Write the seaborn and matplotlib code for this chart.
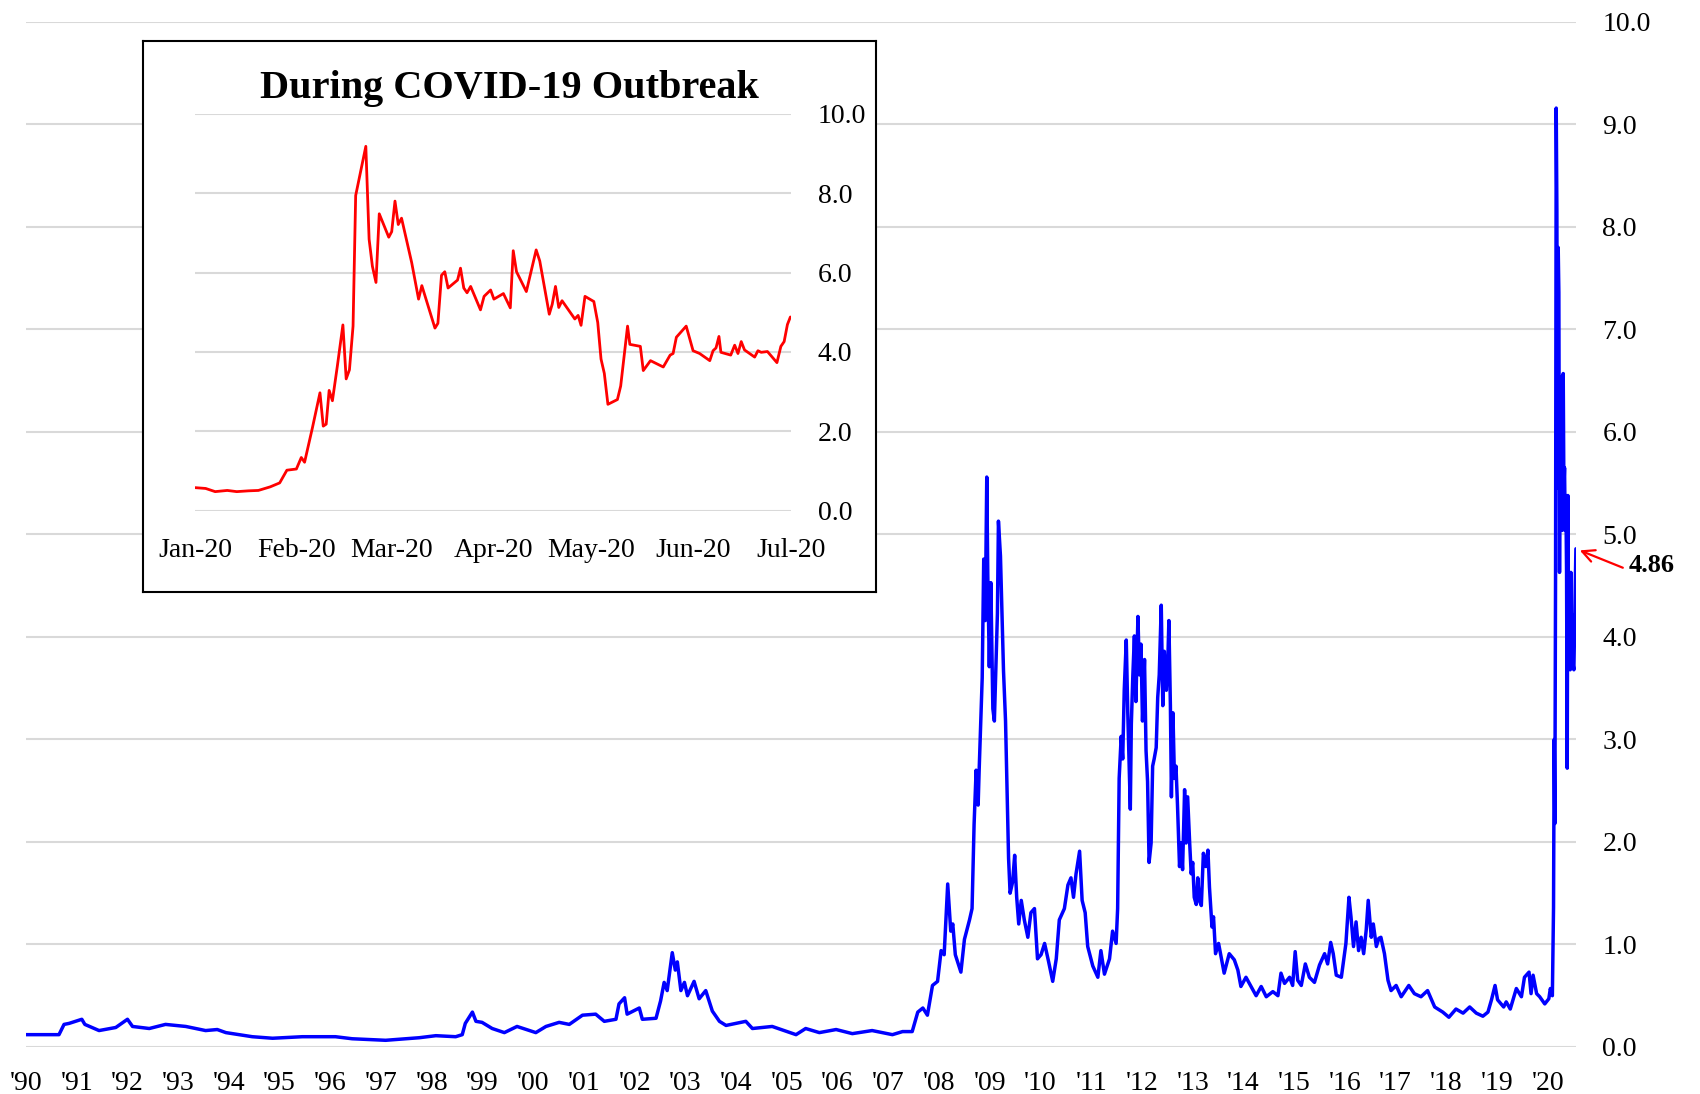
import pandas as pd
import seaborn as sns
import matplotlib.pyplot as plt

# ============================================
# DATA
# ============================================

main_year = [
    1990.00, 1990.65, 1990.75, 1990.85, 1991.10, 1991.16, 1991.44, 1991.77, 1992.00, 1992.10,
    1992.43, 1992.75, 1993.15, 1993.54, 1993.77, 1993.94, 1994.46, 1994.86, 1995.45, 1995.78,
    1996.10, 1996.43, 1997.09, 1997.75, 1998.08, 1998.47, 1998.60, 1998.66, 1998.80, 1998.87,
    1998.99, 1999.19, 1999.43, 1999.68, 2000.05, 2000.25, 2000.51, 2000.71, 2000.97, 2001.23,
    2001.40, 2001.63, 2001.69, 2001.80, 2001.85, 2002.09, 2002.15, 2002.42, 2002.51, 2002.58,
    2002.64, 2002.74, 2002.80, 2002.84, 2002.91, 2002.98, 2003.04, 2003.17, 2003.27, 2003.40,
    2003.53, 2003.67, 2003.80, 2004.19, 2004.32, 2004.71, 2005.18, 2005.37, 2005.64, 2005.97,
    2006.29, 2006.68, 2007.08, 2007.28, 2007.47, 2007.58, 2007.68, 2007.77, 2007.87, 2007.97,
    2008.04, 2008.10, 2008.17, 2008.23, 2008.27, 2008.32, 2008.43, 2008.50, 2008.60, 2008.65,
    2008.69, 2008.73, 2008.77, 2008.79, 2008.85, 2008.88, 2008.91, 2008.94, 2008.96, 2008.99,
    2009.02, 2009.06, 2009.09, 2009.12, 2009.15, 2009.17, 2009.21, 2009.24, 2009.27, 2009.31,
    2009.33, 2009.37, 2009.40, 2009.45, 2009.49, 2009.53, 2009.57, 2009.62, 2009.68, 2009.75,
    2009.81, 2009.88, 2009.94, 2010.01, 2010.08, 2010.16, 2010.24, 2010.31, 2010.37, 2010.47,
    2010.54, 2010.60, 2010.65, 2010.70, 2010.77, 2010.82, 2010.88, 2010.93, 2011.03, 2011.13,
    2011.19, 2011.26, 2011.36, 2011.42, 2011.49, 2011.52, 2011.55, 2011.59, 2011.62, 2011.65,
    2011.69, 2011.72, 2011.74, 2011.77, 2011.79, 2011.82, 2011.85, 2011.88, 2011.92, 2011.95,
    2011.98, 2012.01, 2012.05, 2012.08, 2012.11, 2012.14, 2012.18, 2012.21, 2012.24, 2012.28,
    2012.31, 2012.34, 2012.38, 2012.41, 2012.44, 2012.48, 2012.51, 2012.53, 2012.56, 2012.58,
    2012.61, 2012.64, 2012.67, 2012.70, 2012.74, 2012.77, 2012.80, 2012.84, 2012.87, 2012.90,
    2012.94, 2012.97, 2013.00, 2013.03, 2013.07, 2013.10, 2013.13, 2013.17, 2013.21, 2013.26,
    2013.30, 2013.33, 2013.38, 2013.41, 2013.45, 2013.51, 2013.56, 2013.62, 2013.72, 2013.82,
    2013.89, 2013.95, 2014.05, 2014.15, 2014.25, 2014.35, 2014.45, 2014.58, 2014.68, 2014.74,
    2014.81, 2014.91, 2014.97, 2015.02, 2015.07, 2015.14, 2015.22, 2015.30, 2015.40, 2015.50,
    2015.60, 2015.66, 2015.72, 2015.77, 2015.83, 2015.93, 2016.02, 2016.08, 2016.12, 2016.17,
    2016.22, 2016.27, 2016.32, 2016.37, 2016.42, 2016.46, 2016.52, 2016.56, 2016.62, 2016.67,
    2016.71, 2016.78, 2016.85, 2016.91, 2017.01, 2017.11, 2017.26, 2017.37, 2017.50, 2017.63,
    2017.77, 2017.93, 2018.05, 2018.19, 2018.33, 2018.46, 2018.59, 2018.72, 2018.82, 2018.89,
    2018.96, 2019.01, 2019.13, 2019.18, 2019.26, 2019.38, 2019.48, 2019.54, 2019.63, 2019.67,
    2019.71, 2019.78, 2019.84, 2019.94, 2020.02, 2020.05, 2020.09, 2020.113, 2020.126, 2020.139,
    2020.153, 2020.166, 2020.179, 2020.192, 2020.205, 2020.218, 2020.231, 2020.245, 2020.258, 2020.271,
    2020.284, 2020.304, 2020.317, 2020.330, 2020.343, 2020.356, 2020.370, 2020.383, 2020.396, 2020.409,
    2020.422, 2020.442, 2020.455, 2020.468, 2020.481, 2020.494, 2020.514, 2020.534, 2020.554,
]

main_value = [
    0.12, 0.12, 0.22, 0.23, 0.27, 0.22, 0.16, 0.19, 0.27, 0.20,
    0.18, 0.22, 0.20, 0.16, 0.17, 0.14, 0.10, 0.085, 0.10, 0.10,
    0.10, 0.08, 0.065, 0.09, 0.11, 0.10, 0.12, 0.23, 0.34, 0.25,
    0.24, 0.18, 0.14, 0.20, 0.14, 0.20, 0.24, 0.22, 0.31, 0.32,
    0.25, 0.27, 0.42, 0.48, 0.32, 0.38, 0.27, 0.28, 0.45, 0.63,
    0.55, 0.92, 0.75, 0.83, 0.55, 0.63, 0.50, 0.64, 0.47, 0.55,
    0.35, 0.25, 0.21, 0.25, 0.18, 0.20, 0.12, 0.18, 0.14, 0.17,
    0.13, 0.16, 0.12, 0.15, 0.15, 0.34, 0.38, 0.31, 0.60, 0.64,
    0.94, 0.90, 1.59, 1.13, 1.20, 0.90, 0.73, 1.05, 1.24, 1.35,
    2.17, 2.70, 2.36, 2.70, 3.60, 4.76, 4.16, 5.56, 4.61, 3.71,
    4.53, 3.30, 3.18, 3.71, 4.23, 5.13, 4.79, 4.23, 3.67, 3.18,
    2.74, 1.84, 1.50, 1.61, 1.87, 1.46, 1.20, 1.43, 1.24, 1.07,
    1.31, 1.35, 0.86, 0.90, 1.01, 0.83, 0.64, 0.86, 1.24, 1.35,
    1.58, 1.65, 1.46, 1.69, 1.91, 1.43, 1.31, 0.98, 0.79, 0.68,
    0.94, 0.71, 0.86, 1.13, 1.01, 1.35, 2.62, 3.03, 2.81, 3.48,
    3.97, 3.26, 2.89, 2.32, 3.15, 3.63, 4.01, 3.37, 4.20, 3.63,
    3.93, 3.18, 3.78, 2.89, 2.59, 1.80, 1.99, 2.74, 2.81, 2.92,
    3.41, 3.63, 4.31, 3.33, 3.86, 3.48, 3.78, 4.16, 3.33, 2.44,
    3.26, 2.62, 2.74, 2.36, 1.76, 1.99, 1.73, 2.51, 1.99, 2.44,
    1.99, 1.69, 1.80, 1.46, 1.39, 1.65, 1.43, 1.38, 1.89, 1.76,
    1.92, 1.56, 1.17, 1.27, 0.91, 1.01, 0.88, 0.72, 0.91, 0.85,
    0.75, 0.59, 0.68, 0.59, 0.50, 0.59, 0.49, 0.54, 0.50, 0.72,
    0.62, 0.68, 0.60, 0.93, 0.65, 0.60, 0.81, 0.68, 0.63, 0.80,
    0.91, 0.81, 1.02, 0.91, 0.70, 0.68, 1.01, 1.46, 1.27, 0.98,
    1.22, 0.94, 1.07, 0.91, 1.14, 1.43, 1.07, 1.20, 0.98, 1.06,
    1.07, 0.91, 0.65, 0.55, 0.60, 0.49, 0.60, 0.52, 0.49, 0.55,
    0.39, 0.34, 0.29, 0.37, 0.33, 0.39, 0.33, 0.30, 0.34, 0.46,
    0.60, 0.46, 0.39, 0.44, 0.37, 0.57, 0.49, 0.68, 0.73, 0.52,
    0.70, 0.52, 0.49, 0.42, 0.47, 0.57, 0.50, 1.36, 3.00, 2.18,
    4.63, 9.16, 8.17, 5.45, 7.80, 7.36, 4.63, 6.13, 5.31, 6.54,
    5.04, 6.57, 5.45, 5.65, 5.04, 5.38, 4.63, 2.72, 5.38, 3.75,
    4.63, 3.68, 4.63, 3.81, 4.22, 3.75, 3.68, 4.29, 4.86,
]

# inset: days after 1 Jan 2020
inset_day = [
    0, 3.2, 6.1, 9.8, 12.7, 16.3, 19.3, 22.9, 25.8, 28,
    30.9, 32.4, 33.4, 35.8, 38.1, 39.1, 40, 40.9, 41.9, 43.4,
    45.1, 46.1, 47.1, 48.2, 49, 52.1, 53.1, 54.1, 55.2, 56.2,
    59.1, 60, 61, 62, 63, 66.1, 68.2, 69.2, 73.2, 74.1,
    75.2, 76.2, 77.2, 80.1, 81, 82, 83, 84.1, 87.1, 88.2,
    90.2, 91.2, 94.1, 96.2, 97.1, 98.1, 101.1, 104.1, 105.2, 108.1,
    109, 110, 111, 112, 115.9, 116.9, 117.8, 119, 121.7, 122.9,
    123.9, 124.9, 126, 128.9, 129.9, 132, 132.7, 135.9, 136.8, 139,
    142.9, 145, 145.9, 146.9, 149.9, 152, 154, 157.1, 158.1, 159,
    159.9, 160.5, 163.5, 164.7, 165.7, 166.7, 167.7, 170.8, 171.8, 172.8,
    174.7, 177.6, 178.8, 179.8, 180.8, 181.7,
]

inset_value = [
    0.58, 0.56, 0.48, 0.51, 0.48, 0.50, 0.51, 0.60, 0.70, 1.02,
    1.05, 1.34, 1.22, 2.09, 2.97, 2.13, 2.18, 3.03, 2.77, 3.64,
    4.68, 3.32, 3.55, 4.65, 7.94, 9.18, 6.84, 6.16, 5.75, 7.48,
    6.89, 7.03, 7.80, 7.21, 7.37, 6.25, 5.33, 5.67, 4.60, 4.72,
    5.93, 6.02, 5.61, 5.81, 6.11, 5.61, 5.49, 5.65, 5.06, 5.40,
    5.56, 5.33, 5.47, 5.11, 6.55, 6.02, 5.52, 6.57, 6.29, 4.95,
    5.20, 5.65, 5.12, 5.29, 4.83, 4.92, 4.67, 5.40, 5.27, 4.74,
    3.82, 3.46, 2.68, 2.80, 3.14, 4.65, 4.19, 4.14, 3.53, 3.78,
    3.62, 3.92, 3.96, 4.37, 4.65, 4.03, 3.96, 3.78, 4.03, 4.10,
    4.39, 3.99, 3.92, 4.17, 3.96, 4.26, 4.05, 3.87, 4.03, 3.99,
    4.01, 3.73, 4.14, 4.26, 4.69, 4.88,
]

years = list(range(1990, 2021))
year_labels = ["'" + str(y)[2:] for y in years]
y_ticks = list(range(0, 11))
inset_y_ticks = [0, 2, 4, 6, 8, 10]
inset_title = "During COVID-19 Outbreak"

main_df = pd.DataFrame({"year": main_year, "value": main_value})
inset_df = pd.DataFrame({
    "date": pd.Timestamp("2020-01-01") + pd.to_timedelta(inset_day, unit="D"),
    "value": inset_value,
})

# ============================================
# STYLE
# ============================================

sns.set_style("white")
plt.rcParams["font.family"] = ["Liberation Serif", "DejaVu Serif"]
plt.rcParams["text.color"] = "black"
plt.rcParams["xtick.color"] = "black"
plt.rcParams["ytick.color"] = "black"

GRID = "#d9d9d9"

fig = plt.figure(figsize=(17, 10.94), dpi=100)

# ============================================
# MAIN CHART
# ============================================

ax = fig.add_axes([0.0153, 0.043, 0.9117, 0.9369])

sns.lineplot(data=main_df, x="year", y="value", color="#0000ff",
             linewidth=2.5, estimator=None, ax=ax)

ax.set_xlim(main_year[0], main_year[-1])
ax.set_ylim(0, 10)
ax.set_yticks(y_ticks)
ax.set_yticklabels([f"{v:.1f}" for v in y_ticks])
ax.set_xticks(years)
ax.set_xticklabels(year_labels)
ax.yaxis.tick_right()
ax.tick_params(axis="y", length=0, pad=19, labelsize=20)
ax.tick_params(axis="x", length=0, pad=17, labelsize=20)
ax.grid(axis="y", color=GRID, linewidth=1.5)
ax.set_axisbelow(True)
for s in ax.spines.values():
    s.set_visible(False)
ax.set_xlabel("")
ax.set_ylabel("")

ax.annotate(
    f"{main_value[-1]:.2f}",
    xy=(main_year[-1], main_value[-1]),
    xytext=(38, -12), textcoords="offset points",
    ha="left", va="center", fontsize=19, fontweight="bold",
    arrowprops=dict(arrowstyle="->", color="red", lw=1.6,
                    mutation_scale=22, relpos=(0, 0.3),
                    shrinkA=2, shrinkB=3),
    annotation_clip=False,
)

# ============================================
# INSET
# ============================================

frame = fig.add_axes([0.0842, 0.4589, 0.4311, 0.5035])
frame.set_xticks([])
frame.set_yticks([])
frame.set_facecolor("white")
for s in frame.spines.values():
    s.set_visible(True)
    s.set_color("black")
    s.set_linewidth(1.5)

ins = fig.add_axes([0.1148, 0.5332, 0.3507, 0.3628])
ins.set_facecolor("none")

sns.lineplot(data=inset_df, x="date", y="value", color="#ff0000",
             linewidth=2.0, estimator=None, ax=ins)

month_ticks = pd.date_range("2020-01-01", "2020-07-01", freq="MS")
ins.set_xlim(month_ticks[0], month_ticks[-1])
ins.set_ylim(0, 10)
ins.set_xticks(month_ticks)
ins.set_xticklabels([d.strftime("%b-%y") for d in month_ticks])
ins.set_yticks(inset_y_ticks)
ins.set_yticklabels([f"{v:.1f}" for v in inset_y_ticks])
ins.yaxis.tick_right()
ins.tick_params(axis="y", length=0, pad=19, labelsize=20)
ins.tick_params(axis="x", length=0, pad=20, labelsize=20)
ins.grid(axis="y", color=GRID, linewidth=1.5)
ins.set_axisbelow(True)
for s in ins.spines.values():
    s.set_visible(False)
ins.set_xlabel("")
ins.set_ylabel("")

fig.text(0.2998, 0.919, inset_title, ha="center", va="center",
         fontsize=29, fontweight="bold")

plt.savefig("out.png", dpi=100)
